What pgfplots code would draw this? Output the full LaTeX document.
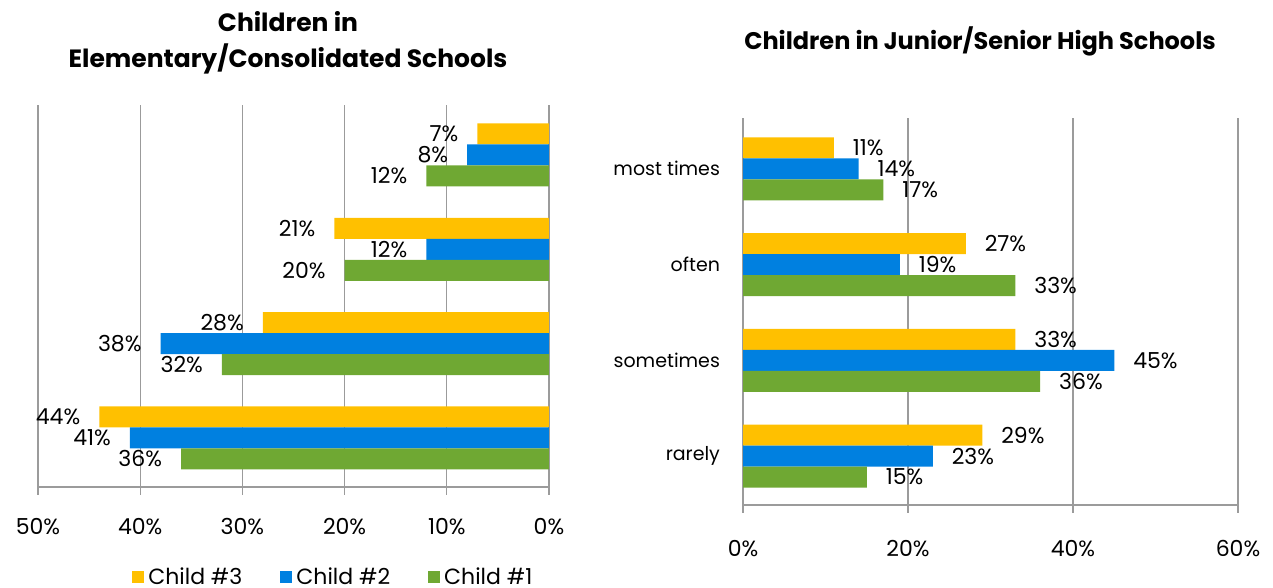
\documentclass[border=0pt]{standalone}
\usepackage{pgfplots}
\pgfplotsset{compat=1.18}
\usepackage{fontspec}
\setmainfont{Poppins}
\definecolor{cY}{RGB}{255,192,0}
\definecolor{cB}{RGB}{0,128,224}
\definecolor{cG}{RGB}{111,168,51}
\definecolor{gridc}{RGB}{155,155,155}
\pgfplotsset{
 common/.style={
   scale only axis, xbar, bar width=10.5pt,
   axis x line=bottom, axis y line=left,
   y axis line style={draw=none},
   ytick style={draw=none},
   x axis line style={draw=gridc, line width=0.6pt, -},
   xtick style={draw=gridc, line width=0.6pt},
   tick align=outside, major tick length=4pt,
   xmajorgrids, grid style={draw=gridc, line width=0.6pt},
   /pgf/number format/assume math mode=true,
   tick label style={font=\fontsize{11}{13}\selectfont},
   nodes near coords={\pgfmathprintnumber{\pgfplotspointmeta}\%},
   every node near coord/.append style={font=\fontsize{11}{13}\selectfont, text=black},
   legend image code/.code={\fill[##1] (0pt,-3pt) rectangle (6pt,3pt);},
 }
}
\begin{document}
\begin{tikzpicture}
\useasboundingbox (0pt,0pt) rectangle (636.5pt,294pt);
\clip (0pt,0pt) rectangle (636.5pt,294pt);
\begin{axis}[common, at={(19pt,50.5pt)}, anchor=south west,
  width=255.5pt, height=191pt, x dir=reverse,
  xmin=0, xmax=50, xtick={0,10,20,30,40,50},
  xticklabels={0\%,10\%,20\%,30\%,40\%,50\%},
  xticklabel style={yshift=-8pt},
  ymin=-0.52, ymax=3.53, ytick=\empty,
  every node near coord/.append style={anchor=east, xshift=-6pt},
  legend style={at={(0.58,-0.236)}, anchor=center, draw=none, fill=none,
    legend columns=3, font=\fontsize{11}{13}\selectfont,
    /tikz/every even column/.append style={column sep=17pt}},
]
\addplot[fill=cY, draw=none, bar shift=10.5pt] coordinates {(7,3) (21,2) (28,1) (44,0)};
\addlegendentry{Child \#3}
\addplot[fill=cB, draw=none, bar shift=0pt] coordinates {(8,3) (12,2) (38,1) (41,0)};
\addlegendentry{Child \#2}
\addplot[fill=cG, draw=none, bar shift=-10.5pt] coordinates {(12,3) (20,2) (32,1) (36,0)};
\addlegendentry{Child \#1}
\end{axis}
\begin{axis}[common, at={(371.5pt,41.5pt)}, anchor=south west,
  width=247.5pt, height=193.5pt,
  xmin=0, xmax=60, xtick={0,20,40,60},
  xticklabels={0\%,20\%,40\%,60\%},
  xticklabel style={yshift=-10pt},
  ymin=-0.51, ymax=3.53, ytick={0,1,2,3},
  yticklabels={rarely,sometimes,often,most times},
  yticklabel style={font=\fontsize{9.5}{11}\selectfont, xshift=-4pt},
  every node near coord/.append style={anchor=west, xshift=6pt},
]
\addplot[fill=cY, draw=none, bar shift=10.5pt] coordinates {(11,3) (27,2) (33,1) (29,0)};
\addplot[fill=cB, draw=none, bar shift=0pt] coordinates {(14,3) (19,2) (45,1) (23,0)};
\addplot[fill=cG, draw=none, bar shift=-10.5pt] coordinates {(17,3) (33,2) (36,1) (15,0)};
\end{axis}
\node[font=\bfseries\fontsize{12.5}{18}\selectfont, align=center] at (144pt,272.5pt) {Children in\\Elementary/Consolidated Schools};
\node[font=\bfseries\fontsize{12}{14}\selectfont] at (490pt,273.5pt) {Children in Junior/Senior High Schools};
\end{tikzpicture}
\end{document}
